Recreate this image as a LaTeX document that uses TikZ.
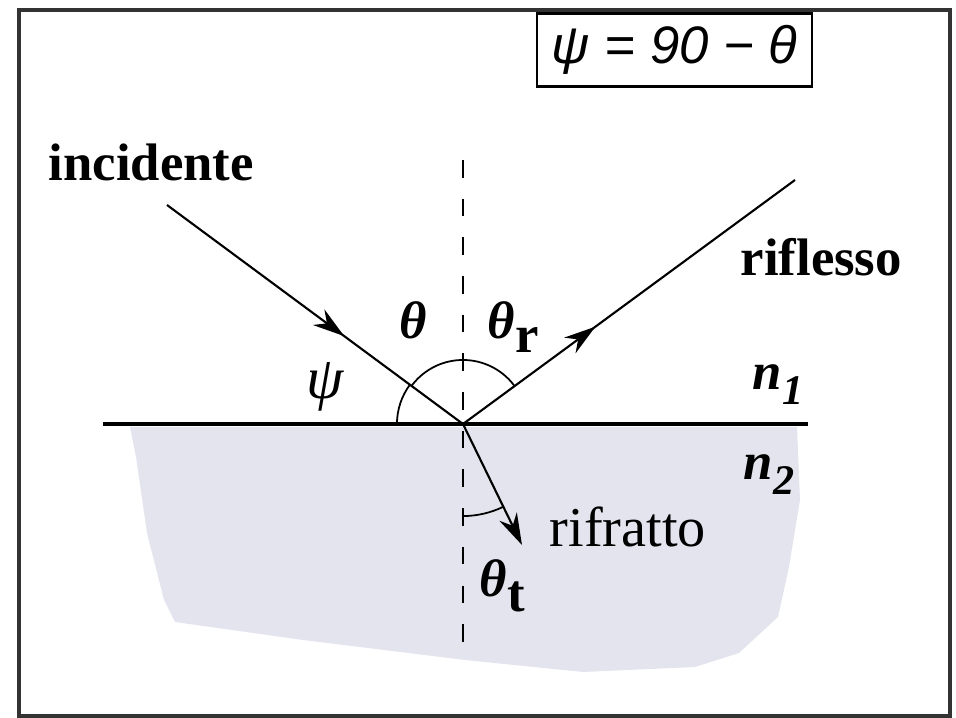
\documentclass[tikz,border=0pt]{standalone}
\usepackage{fontspec}
\setmainfont{Liberation Serif}
\newfontfamily\boxfont{Liberation Sans}
\usetikzlibrary{arrows.meta, decorations.markings, angles}
\definecolor{glass}{RGB}{228,228,238}

\begin{document}
\begin{tikzpicture}[x=0.01cm, y=0.01cm,
    ray/.style={line width=0.6pt},
    midarrow/.style={postaction={decorate}, decoration={markings, mark=at position #1 with {\arrow{Stealth[length=9pt, width=5.5pt]}}}},
    word/.style={font=\fontsize{15}{18}\selectfont\bfseries, inner sep=0pt},
    sym/.style={font=\fontsize{15}{18}\selectfont\bfseries\itshape, inner sep=0pt},
    angarc/.style={draw, line width=0.5pt}]
    \useasboundingbox (0,0) rectangle (956,-718);

    % Frame
    \draw[line width=0.9pt, black!80] (19,-10) rectangle (950,-716);

    % Second medium
    \fill[glass] (130,-427) -- (797,-427) -- (800,-500) -- (789,-567) -- (778,-617) -- (739,-653)
        -- (695,-667) -- (583,-672) -- (465,-660) -- (303,-640) -- (175,-622) -- (164,-600)
        -- (147,-533) -- (136,-457) -- cycle;

    % Points
    \coordinate (O) at (463,-424);
    \coordinate (surfL) at (103,-424);
    \coordinate (surfR) at (808,-424);
    \coordinate (ntop) at (463,-160);
    \coordinate (nbot) at (463,-662);
    \coordinate (inc) at (167,-205);
    \coordinate (refl) at (795,-180);
    \coordinate (refr) at (522,-545);

    % Interface and normal
    \draw[line width=0.9pt] (surfL) -- (surfR);
    \draw[line width=0.6pt, dash pattern=on 5pt off 6pt] (ntop) -- (nbot);

    % Rays
    \draw[ray, midarrow=0.6] (inc) -- (O);
    \draw[ray, midarrow=0.4] (O) -- (refl);
    \draw[ray, -{Stealth[length=9pt, width=5.5pt]}] (O) -- (refr);

    % Angles
    \pic[angarc, angle radius=0.64cm] {angle=refl--O--inc};
    \pic[angarc, angle radius=0.66cm] {angle=inc--O--surfL};
    \pic[angarc, angle radius=0.92cm] {angle=nbot--O--refr};

    % Labels
    \node[word, anchor=base west] (incLbl) at (48,-180) {incidente};
    \node[word, anchor=base west] (reflLbl) at (740,-275) {riflesso};
    \node[font=\fontsize{16}{19}\selectfont, inner sep=0pt, anchor=base west] (refrLbl) at (549,-547) {rifratto};
    \node[sym] (thI) at (413,-320) {θ};
    \node[sym, anchor=base west] (thR) at (487,-339) {θ\raisebox{-0.55ex}{\upshape r}};
    \node[sym, anchor=base west] (thT) at (479,-597) {θ\raisebox{-0.6ex}{\upshape t}};
    \node[sym, font=\fontsize{17}{20}\selectfont\itshape] (psi) at (325,-387) {ψ};
    \node[sym, anchor=base west] (nOne) at (752,-390) {n\raisebox{-0.6ex}{\fontsize{12}{14}\selectfont 1}};
    \node[sym, anchor=base west] (nTwo) at (743,-480) {n\raisebox{-0.6ex}{\fontsize{12}{14}\selectfont 2}};

    % Relation
    \node[draw, line width=0.7pt, minimum width=2.75cm, minimum height=0.7cm,
        font=\boxfont\itshape\fontsize{15}{18}\selectfont] (rule) at (674.5,-50) {ψ = 90 − θ};
\end{tikzpicture}
\end{document}
